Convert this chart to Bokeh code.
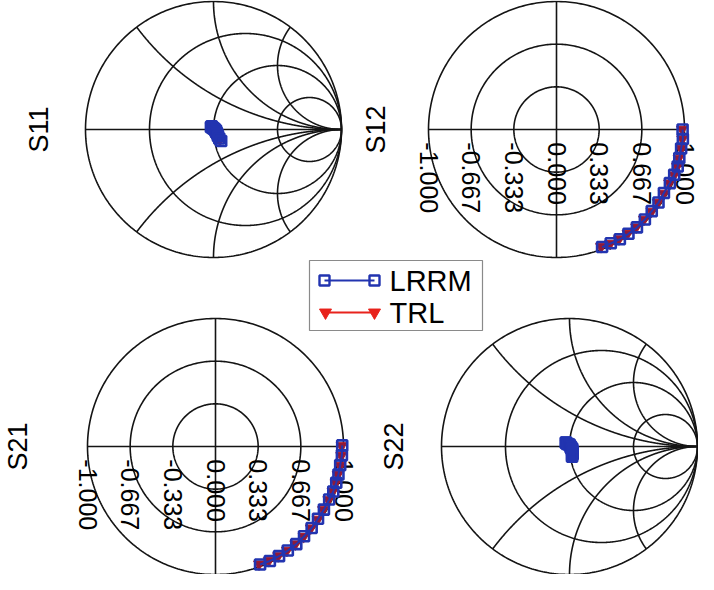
import numpy as np
from bokeh.plotting import figure
from bokeh.models import Range1d
from bokeh.embed import file_html
from bokeh.resources import INLINE
from bokeh.core.properties import value

# ---------------- chart values ----------------
panel_names = ["S11", "S12", "S21", "S22"]
smith_r_values = [1 / 3, 1.0, 3.0]
smith_x_values = [0.5, 1.0, 2.0]
polar_rings = [1 / 3, 2 / 3, 1.0]
polar_tick_values = [-1.0, -0.667, -0.333, 0.0, 0.333, 0.667, 1.0]
polar_tick_labels = ["-1.000", "-0.667", "-0.333", "0.000", "0.333", "0.667", "1.000"]
legend_labels = ["LRRM", "TRL"]

# S11 / S22 (Smith charts): real and imaginary parts of reflection coefficient
s11_lrrm_re = [-0.02, -0.015, -0.01, -0.01, -0.005, 0.0, 0.005, 0.01, 0.015, 0.02, 0.02, 0.025, 0.03, 0.035, 0.045, 0.06]
s11_lrrm_im = [0.02, 0.025, 0.02, 0.015, 0.01, 0.01, 0.005, 0.0, -0.005, -0.01, -0.02, -0.025, -0.035, -0.05, -0.07, -0.09]
s11_trl_re = [-0.02, -0.02, -0.015, -0.01, -0.005, 0.0, 0.0, 0.01, 0.01, 0.015, 0.02, 0.02, 0.025, 0.03, 0.04, 0.05]
s11_trl_im = [0.02, 0.02, 0.015, 0.015, 0.01, 0.005, 0.0, 0.0, -0.01, -0.015, -0.02, -0.03, -0.04, -0.05, -0.065, -0.08]

s22_lrrm_re = [-0.03, -0.025, -0.02, -0.01, 0.0, 0.0, 0.01, 0.01, 0.02, 0.02, 0.02, 0.025, 0.025, 0.025, 0.02, 0.02]
s22_lrrm_im = [0.03, 0.03, 0.02, 0.02, 0.015, 0.01, 0.0, -0.01, -0.015, -0.02, -0.03, -0.04, -0.05, -0.06, -0.07, -0.08]
s22_trl_re = [-0.03, -0.02, -0.02, -0.01, -0.005, 0.0, 0.005, 0.01, 0.015, 0.02, 0.02, 0.02, 0.02, 0.02, 0.02, 0.015]
s22_trl_im = [0.025, 0.025, 0.02, 0.015, 0.01, 0.005, 0.0, -0.005, -0.01, -0.02, -0.03, -0.035, -0.045, -0.055, -0.065, -0.075]

# S12 / S21 (polar charts): magnitude and phase in degrees
s12_lrrm_mag = [0.985, 0.99, 0.985, 0.985, 0.99, 0.985, 0.98, 0.975, 0.98, 0.98, 0.985, 0.99, 0.99, 0.99, 0.985, 0.985]
s12_lrrm_phase = [0.0, -4.3, -8.7, -13.1, -17.0, -21.0, -25.3, -30.6, -35.6, -40.6, -45.5, -50.6, -55.4, -60.0, -64.5, -68.8]
s12_trl_mag = [0.98, 0.985, 0.985, 0.98, 0.985, 0.985, 0.975, 0.975, 0.975, 0.98, 0.98, 0.985, 0.985, 0.985, 0.985, 0.98]
s12_trl_phase = [0.0, -4.4, -8.8, -13.3, -17.1, -21.2, -25.5, -30.8, -35.8, -40.8, -45.8, -50.8, -55.7, -60.3, -64.8, -69.2]

s21_lrrm_mag = [0.99, 0.99, 0.985, 0.985, 0.985, 0.985, 0.98, 0.98, 0.98, 0.985, 0.985, 0.99, 0.99, 0.99, 0.99, 0.985]
s21_lrrm_phase = [0.5, -4.0, -8.5, -12.8, -16.7, -20.9, -25.0, -30.2, -35.2, -40.3, -45.4, -50.4, -55.2, -59.9, -64.6, -69.3]
s21_trl_mag = [0.985, 0.985, 0.985, 0.98, 0.98, 0.98, 0.975, 0.975, 0.98, 0.98, 0.985, 0.985, 0.985, 0.985, 0.985, 0.98]
s21_trl_phase = [0.3, -4.2, -8.7, -13.0, -16.9, -21.1, -25.3, -30.5, -35.5, -40.6, -45.7, -50.7, -55.5, -60.2, -65.0, -69.7]

# ---------------- layout / style ----------------
W, H = 698, 574
R = 128.0
centers = {"S11": (213, 445), "S12": (556, 445), "S21": (215, 128), "S22": (569, 128)}
title_offsets = {"S11": -1.36, "S12": -1.41, "S21": -1.54, "S22": -1.37}
FONT = "Liberation Sans"
BLUE = "#2234b0"
RED = "#e8231c"
GRID = "#141414"

p = figure(width=W, height=H, output_backend="svg", toolbar_location=None,
           x_range=Range1d(0, W), y_range=Range1d(0, H),
           x_axis_location=None, y_axis_location=None, min_border=0)
p.grid.visible = False
p.outline_line_color = None
p.background_fill_color = "white"

for name in panel_names:
    cx, cy = centers[name]
    p.extra_x_ranges["x" + name] = Range1d(-cx / R, (W - cx) / R)
    p.extra_y_ranges["y" + name] = Range1d(-cy / R, (H - cy) / R)

t_full = np.linspace(0, 2 * np.pi, 361)


def rng(name):
    return dict(x_range_name="x" + name, y_range_name="y" + name)


def smith_grid(name):
    xs, ys = [], []
    xs.append(np.cos(t_full)); ys.append(np.sin(t_full))
    tt = np.linspace(-np.pi / 2 + 1e-4, np.pi / 2 - 1e-4, 800)
    for r in smith_r_values:
        z = r + 1j * np.tan(tt)
        g = (z - 1) / (z + 1)
        xs.append(g.real); ys.append(g.imag)
    tr = np.linspace(0, np.pi / 2 - 1e-4, 800)
    for xv in smith_x_values:
        for sgn in (1, -1):
            z = np.tan(tr) + 1j * sgn * xv
            g = (z - 1) / (z + 1)
            xs.append(g.real); ys.append(g.imag)
    xs.append(np.array([-1.0, 1.0])); ys.append(np.array([0.0, 0.0]))
    p.multi_line([list(a) for a in xs], [list(b) for b in ys], line_color=GRID, line_width=1.6, **rng(name))


def polar_grid(name):
    xs, ys = [], []
    for rr in polar_rings:
        xs.append(rr * np.cos(t_full)); ys.append(rr * np.sin(t_full))
    xs.append(np.array([-1.0, 1.0])); ys.append(np.array([0.0, 0.0]))
    xs.append(np.array([0.0, 0.0])); ys.append(np.array([-1.0, 1.0]))
    p.multi_line([list(a) for a in xs], [list(b) for b in ys], line_color=GRID, line_width=1.6, **rng(name))
    p.text(x=polar_tick_values, y=[-0.1] * len(polar_tick_values), text=polar_tick_labels,
           angle=-np.pi / 2, text_align="left", text_baseline="middle",
           text_font=value(FONT), text_font_size="25px", text_color="black", **rng(name))


def draw_series(name, lx, ly, tx, ty):
    p.line(tx, ty, line_color=RED, line_width=2, **rng(name))
    p.scatter(tx, ty, marker="inverted_triangle", size=11, fill_color="#8e1a3a", line_color="#b01e2a", **rng(name))
    p.line(lx, ly, line_color=BLUE, line_width=2, **rng(name))
    p.scatter(lx, ly, marker="square", size=10, fill_color=None, line_color=BLUE, line_width=2.6, **rng(name))


def polar_xy(mag, ph):
    m = np.array(mag); a = np.deg2rad(np.array(ph))
    return list(m * np.cos(a)), list(m * np.sin(a))


smith_grid("S11")
smith_grid("S22")
polar_grid("S12")
polar_grid("S21")

draw_series("S11", s11_lrrm_re, s11_lrrm_im, s11_trl_re, s11_trl_im)
draw_series("S22", s22_lrrm_re, s22_lrrm_im, s22_trl_re, s22_trl_im)
lx, ly = polar_xy(s12_lrrm_mag, s12_lrrm_phase)
tx, ty = polar_xy(s12_trl_mag, s12_trl_phase)
draw_series("S12", lx, ly, tx, ty)
lx, ly = polar_xy(s21_lrrm_mag, s21_lrrm_phase)
tx, ty = polar_xy(s21_trl_mag, s21_trl_phase)
draw_series("S21", lx, ly, tx, ty)

for name in panel_names:
    p.text(x=[title_offsets[name]], y=[0.0], text=[name], angle=np.pi / 2,
           text_align="center", text_baseline="middle", text_font=value(FONT),
           text_font_size="27px", text_color="black", **rng(name))

# ---------------- legend (drawn in page pixel units) ----------------
p.quad(left=[309], right=[482], bottom=[244], top=[314], fill_color="white",
       line_color="#8a8a8a", line_width=1.2)
leg_y = [294, 262]
p.line([324, 374], [leg_y[0], leg_y[0]], line_color=BLUE, line_width=2)
p.scatter([324, 374], [leg_y[0], leg_y[0]], marker="square", size=10, fill_color=None,
          line_color=BLUE, line_width=2.4)
p.line([325, 374], [leg_y[1], leg_y[1]], line_color=RED, line_width=2)
p.scatter([325, 374], [leg_y[1], leg_y[1]], marker="inverted_triangle", size=12,
          fill_color=RED, line_color=RED)
p.text(x=[389, 389], y=leg_y, text=legend_labels, text_align="left", text_baseline="middle",
       text_font=value(FONT), text_font_size="29px", text_color="black")

open("out.html", "w").write(file_html(p, INLINE))
